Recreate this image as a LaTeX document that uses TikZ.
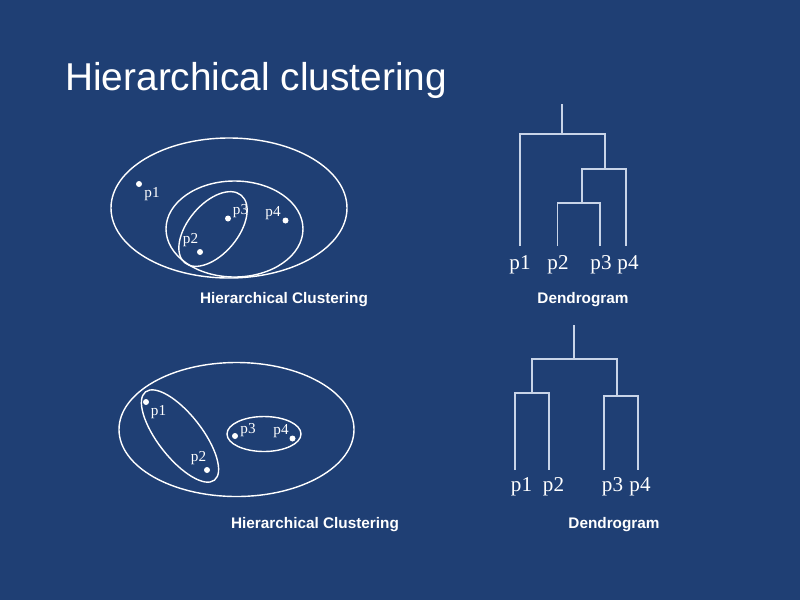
\documentclass[tikz,border=0pt]{standalone}
\usepackage{fontspec}
\setmainfont{Liberation Serif}
\newfontfamily\arialfont{Liberation Sans}
\usepackage{xcolor}
\usetikzlibrary{positioning, calc}
\definecolor{clrSlide}{HTML}{1F3F74}
\definecolor{clrTree}{HTML}{C8D4E8}
\tikzset{
  cluster/.style={draw=white, line width=1pt},
  pt dot/.style={circle, fill=white, inner sep=0pt, minimum size=0.15cm},
  pt label/.style={text=white, font=\fontsize{10.8}{12}\selectfont, inner sep=0pt},
  leaf label/.style={text=white, font=\fontsize{15}{17}\selectfont, inner sep=0pt, anchor=north},
  dendro/.style={draw=clrTree, line width=1.4pt},
  caption/.style={text=white, font=\arialfont\bfseries\fontsize{10.9}{13}\selectfont, anchor=base},
}
\begin{document}
\begin{tikzpicture}[x=0.025cm, y=-0.025cm]
  % Slide background
  \fill[clrSlide] (0,0) rectangle (800,600);
  \useasboundingbox (0,0) rectangle (800,600);

  \node[text=white, font=\arialfont\fontsize{27.6}{30}\selectfont, anchor=base west, inner sep=0pt] (title) at (65,90) {Hierarchical clustering};

  % Nested clusters (top)
  \draw[cluster] (229,208) ellipse [x radius=118, y radius=70];
  \draw[cluster] (234.5,229) ellipse [x radius=68.5, y radius=48];
  \draw[cluster, rotate around={50:(213,229)}] (213,229) ellipse [x radius=44, y radius=25];

  \node[pt dot] (a1) at (139,184) {};
  \node[pt dot] (a2) at (200,252) {};
  \node[pt dot] (a3) at (228,218.5) {};
  \node[pt dot] (a4) at (285.5,220.5) {};
  \node[pt label] (la1) at (152,194) {p1};
  \node[pt label] (la2) at (190.5,240) {p2};
  \node[pt label] (la3) at (240.5,211.5) {p3};
  \node[pt label] (la4) at (273,213) {p4};

  \node[caption] (capA) at (284,303) {Hierarchical Clustering};

  % Dendrogram (top)
  \coordinate (ta1) at (520,246);
  \coordinate (ta2) at (557.5,246);
  \coordinate (ta3) at (600,246);
  \coordinate (ta4) at (626,246);
  \coordinate (ta23) at (582,203);
  \coordinate (ta234) at (605,169);
  \coordinate (taRoot) at (562,104);
  \draw[dendro] (ta2) |- (ta23) -| (ta3);
  \draw[dendro] (ta23) -- (ta23 |- ta234) -- (ta234);
  \draw[dendro] (ta4) |- (ta234);
  \draw[dendro] (ta1) |- (ta234 |- 0,134) -- (ta234);
  \draw[dendro] (taRoot) -- (taRoot |- 0,134);

  \node[leaf label] (pa1) at (520,255) {p1};
  \node[leaf label] (pa2) at (558,255) {p2};
  \node[leaf label] (pa3) at (601,255) {p3};
  \node[leaf label] (pa4) at (628,255) {p4};

  \node[caption] (capB) at (583,303) {Dendrogram};

  % Separate clusters (bottom)
  \draw[cluster] (236.5,429.5) ellipse [x radius=117.5, y radius=67];
  \draw[cluster, rotate around={-52:(180,436)}] (180,436) ellipse [x radius=56, y radius=22];
  \draw[cluster] (264,434) ellipse [x radius=37, y radius=17.5];

  \node[pt dot] (b1) at (146,402) {};
  \node[pt dot] (b2) at (207,470) {};
  \node[pt dot] (b3) at (235,436) {};
  \node[pt dot] (b4) at (292.5,438.5) {};
  \node[pt label] (lb1) at (158.5,412.5) {p1};
  \node[pt label] (lb2) at (198.5,458) {p2};
  \node[pt label] (lb3) at (248,430.5) {p3};
  \node[pt label] (lb4) at (281,431.5) {p4};

  \node[caption] (capC) at (315,528) {Hierarchical Clustering};

  % Dendrogram (bottom)
  \coordinate (tb1) at (515,470);
  \coordinate (tb2) at (549,470);
  \coordinate (tb3) at (604,470);
  \coordinate (tb4) at (638,470);
  \coordinate (tb12) at (532,393);
  \coordinate (tb34) at (617,396);
  \coordinate (tbRoot) at (574,325);
  \draw[dendro] (tb1) |- (tb12) -| (tb2);
  \draw[dendro] (tb3) |- (tb34) -| (tb4);
  \draw[dendro] (tb12) |- (tbRoot |- 0,359) -| (tb34);
  \draw[dendro] (tbRoot) -- (tbRoot |- 0,359);

  \node[leaf label] (pb1) at (521.5,477) {p1};
  \node[leaf label] (pb2) at (553.5,477) {p2};
  \node[leaf label] (pb3) at (612.5,477) {p3};
  \node[leaf label] (pb4) at (640,477) {p4};

  \node[caption] (capD) at (614,528) {Dendrogram};
\end{tikzpicture}
\end{document}
